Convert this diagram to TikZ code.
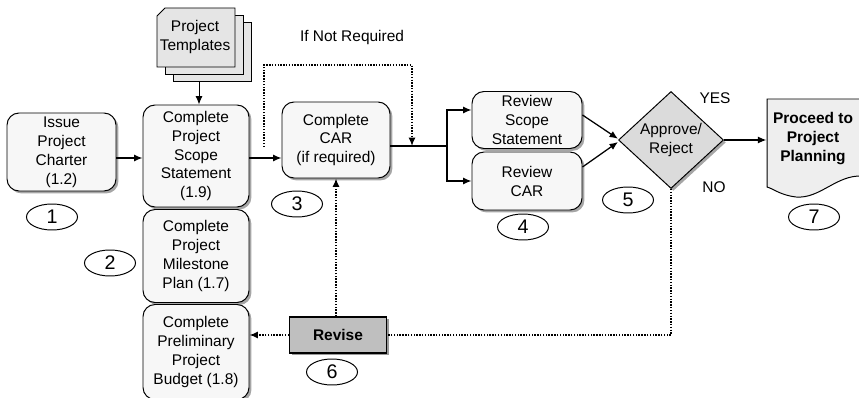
\documentclass[tikz,border=0pt]{standalone}
\usepackage{fontspec}
\setmainfont{Liberation Sans}
\usetikzlibrary{shapes.geometric,shadows,arrows.meta}

\begin{document}
\begin{tikzpicture}[line width=0.9pt, nodes = {align = center}, >={Latex[length=6pt,width=5pt]},
  font=\fontsize{11}{13.5}\selectfont]

  \tikzstyle{task}=[draw, rectangle, rounded corners=0.3cm, line width=0.7pt, fill=gray!6, minimum width=2.65cm, inner sep=1pt, drop shadow={shadow xshift=0.06cm, shadow yshift=-0.06cm, fill=gray!70, opacity=1}]
  \tikzstyle{decision}=[draw, diamond, line width=0.7pt, fill=gray!28, inner sep=0pt, minimum width=2.625cm, minimum height=2.425cm, drop shadow={shadow xshift=0.06cm, shadow yshift=-0.06cm, fill=gray!70, opacity=1}]
  \tikzstyle{revbox}=[draw, rectangle, line width=0.8pt, fill=gray!50, minimum width=2.425cm, minimum height=0.9cm, font=\fontsize{11}{13.5}\selectfont\bfseries, drop shadow={shadow xshift=0.06cm, shadow yshift=-0.06cm, fill=gray!80, opacity=1}]
  \tikzstyle{marker}=[draw, ellipse, line width=0.7pt, minimum width=1.275cm, minimum height=0.65cm, inner sep=0pt, font=\fontsize{14}{16}\selectfont]
  \tikzstyle{sheet}=[draw, line width=0.7pt, fill=gray!20]
  \tikzstyle{skip}=[densely dotted, line width=1pt]

  \useasboundingbox (0,0) rectangle (21.475,9.925);

  % Templates stack
  \draw[sheet] (4.325,7.9) rectangle (6.275,9.375);
  \draw[sheet] (4.125,8.075) rectangle (6.075,9.55);
  \draw[sheet] (3.925,8.25) -- (5.875,8.25) -- (5.875,9.725) -- (4.125,9.725) -- (3.925,9.525) -- cycle;
  \node (templates) at (4.875,8.99) {Project\\Templates};
  \coordinate (stack) at (4.975,7.9);

  % Tasks
  \node[task, minimum width=2.725cm, minimum height=1.95cm] (charter) at (1.5375,6.125) {Issue\\Project\\Charter\\(1.2)};
  \node[task, minimum height=2.55cm] (scope) at (4.9,6.025) {Complete\\Project\\Scope\\Statement\\(1.9)};
  \node[task, minimum height=2.325cm] (milestone) at (4.9,3.525) {Complete\\Project\\Milestone\\Plan (1.7)};
  \node[task, minimum height=2.375cm] (budget) at (4.9,1.125) {Complete\\Preliminary\\Project\\Budget (1.8)};
  \node[task, minimum width=2.7cm, minimum height=1.9cm] (car) at (8.4,6.425) {Complete\\CAR\\(if required)};
  \node[task, minimum width=2.75cm, minimum height=1.425cm] (rscope) at (13.175,6.925) {Review\\Scope\\Statement};
  \node[task, minimum width=2.75cm, minimum height=1.45cm] (rcar) at (13.175,5.4) {Review\\CAR};
  \node[decision] (decision) at (16.775,6.425) {Approve/\\Reject};
  \node[revbox] (revise) at (8.45,1.55) {Revise};

  % Outcome document
  \draw[line width=0.7pt, fill=gray!13] (19.175,7.45) -- (21.55,7.45) -- (21.55,5.525)
    .. controls (20.9,5.55) and (20.5,4.95) .. (19.9,5.0)
    .. controls (19.5,5.05) and (19.35,5.2) .. (19.175,5.25) -- cycle;
  \node[minimum width=2.3cm, font=\fontsize{11}{13.5}\selectfont\bfseries] (proceed) at (20.325,6.45) {Proceed to\\Project\\Planning};

  % Step numbers
  \node[marker] (n1) at (1.3,4.5) {1};
  \node[marker] (n2) at (2.75,3.35) {2};
  \node[marker] (n3) at (7.425,4.825) {3};
  \node[marker] (n4) at (13.075,4.25) {4};
  \node[marker] (n5) at (15.7,4.925) {5};
  \node[marker] (n6) at (8.3,0.625) {6};
  \node[marker] (n7) at (20.35,4.5) {7};

  % Labels
  \node (ifnot) at (8.8,8.975) {If Not Required};
  \node (yes) at (17.875,7.475) {YES};
  \node (no) at (17.85,5.25) {NO};

  % Main flow
  \coordinate (flow) at (0,5.975);
  \coordinate (split) at (11.175,6.275);
  \draw[->, line width=0.7pt] (stack) -- (stack |- scope.north);
  \draw[->] (charter.east |- flow) -- (scope.west |- flow);
  \draw[->] (scope.east |- flow) -- (car.west |- flow);
  \draw (car.east |- split) -- (split);
  \draw[->] (split) |- ([yshift=0.25cm]rscope.west);
  \draw[->] (split) |- (rcar.west);
  \draw[->] ([yshift=0.125cm]rscope.east) -- ([yshift=0.03cm]decision.west);
  \draw[->] ([yshift=0.35cm]rcar.east) -- ([yshift=-0.05cm]decision.west);
  \draw[->] (decision.east) -- (proceed.west |- decision.east);

  % Skip and rework paths
  \coordinate (skip) at (6.6,6.25);
  \coordinate (skiptop) at (6.6,8.3);
  \coordinate (join) at (10.3,6.275);
  \draw[skip, ->] (skip) -- (skiptop) -| (join);
  \draw[skip] (decision.south) |- (revise.east);
  \draw[skip, ->] (revise.west) -- (budget.east |- revise.west);
  \draw[skip, ->] (car.south |- revise.north) -- (car.south);

\end{tikzpicture}
\end{document}
